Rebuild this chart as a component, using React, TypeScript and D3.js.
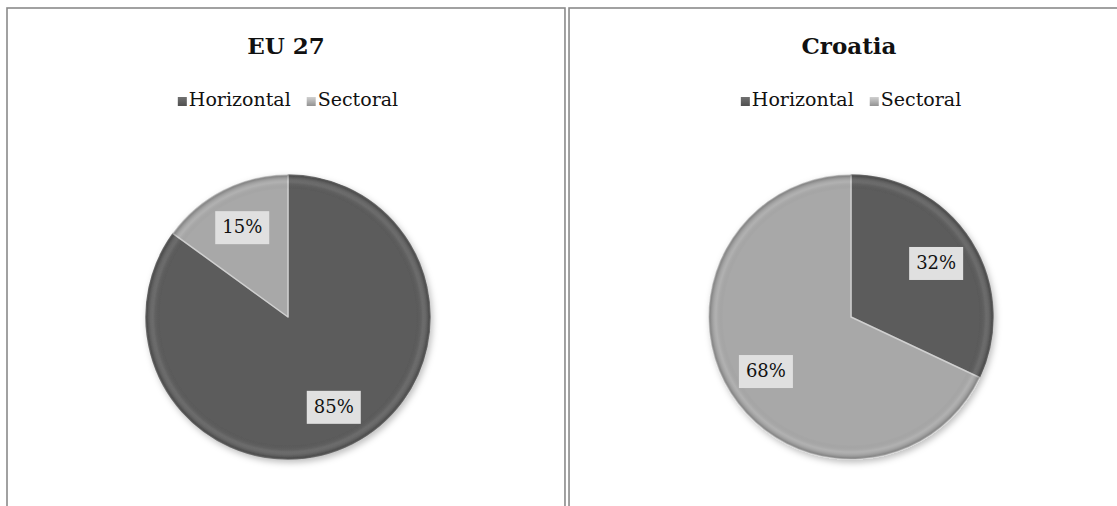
import * as d3 from "d3";
import { useRef, useEffect } from "react";

// chart data
const regions = ["EU 27", "Croatia"];
const categories = ["Horizontal", "Sectoral"];
const horizontalShare = [85, 32];
const sectoralShare = [15, 68];

const colors = ["#5b5b5b", "#a8a8a8"];
const font = "'DejaVu Serif', 'Liberation Serif', serif";

const width = 1117;
const height = 506;

export default function App() {
  const ref = useRef<SVGSVGElement | null>(null);

  useEffect(() => {
    const svg = d3.select(ref.current);
    svg.selectAll("*").remove();

    const radius = 142;
    const defs = svg.append("defs");

    // rim shading used on every slice (in the pie's own coordinates)
    const rim = defs.append("radialGradient")
      .attr("id", "rim")
      .attr("gradientUnits", "userSpaceOnUse")
      .attr("cx", 0).attr("cy", 0).attr("r", radius);
    rim.append("stop").attr("offset", "0%").attr("stop-color", "#000").attr("stop-opacity", 0);
    rim.append("stop").attr("offset", "90%").attr("stop-color", "#000").attr("stop-opacity", 0);
    rim.append("stop").attr("offset", "95%").attr("stop-color", "#fff").attr("stop-opacity", 0.1);
    rim.append("stop").attr("offset", "100%").attr("stop-color", "#000").attr("stop-opacity", 0.3);

    categories.forEach((c, i) => {
      const g = defs.append("linearGradient")
        .attr("id", "leg" + i)
        .attr("x1", 0).attr("y1", 0).attr("x2", 0).attr("y2", 1);
      g.append("stop").attr("offset", "0%").attr("stop-color", d3.color(colors[i])!.brighter(0.6).toString());
      g.append("stop").attr("offset", "100%").attr("stop-color", d3.color(colors[i])!.darker(0.4).toString());
    });

    const shadow = defs.append("filter").attr("id", "shadow")
      .attr("x", "-10%").attr("y", "-10%").attr("width", "130%").attr("height", "130%");
    shadow.append("feDropShadow")
      .attr("dx", 2).attr("dy", 3).attr("stdDeviation", 3)
      .attr("flood-color", "#000").attr("flood-opacity", 0.25);

    const panelX = d3.scaleBand<string>()
      .domain(regions)
      .range([7, 1127])
      .paddingInner(0.0072);

    const pie = d3.pie<number>().sort(null).value(d => d);
    const arc = d3.arc<d3.PieArcDatum<number>>().innerRadius(0).outerRadius(radius);
    const labelArc = d3.arc<d3.PieArcDatum<number>>().innerRadius(radius * 0.71).outerRadius(radius * 0.71);

    regions.forEach((region, ri) => {
      const x0 = panelX(region)!;
      const w = panelX.bandwidth();
      const cx = ri === 0 ? x0 + 281 : x0 + 282;
      const cy = 317;

      const panel = svg.append("g");
      panel.append("rect")
        .attr("x", x0).attr("y", 8)
        .attr("width", w).attr("height", height + 20)
        .attr("fill", "#fff")
        .attr("stroke", "#8a8a8a")
        .attr("stroke-width", 1.6);

      panel.append("text")
        .attr("x", cx - 2).attr("y", 54)
        .attr("text-anchor", "middle")
        .attr("font-family", font)
        .attr("font-weight", "bold")
        .attr("font-size", 23)
        .attr("fill", "#111")
        .text(region);

      // legend
      const legend = panel.append("g").attr("font-family", font).attr("font-size", 19);
      const items = legend.selectAll("g").data(categories).join("g");
      items.append("rect")
        .attr("width", 9).attr("height", 9).attr("y", -9)
        .attr("fill", (_, i) => `url(#leg${i})`);
      items.append("text")
        .attr("x", 11).attr("y", 0)
        .attr("fill", "#111")
        .text(d => d);
      // lay out items centred on the pie
      let off = 0;
      const offs: number[] = [];
      items.each(function () {
        offs.push(off);
        const bb = (this as SVGGElement).getBBox();
        off += bb.width + 16;
      });
      const total = off - 16;
      items.attr("transform", (_, i) => `translate(${cx - total / 2 + offs[i]},106)`);

      const values = [horizontalShare[ri], sectoralShare[ri]];
      const arcs = pie(values);

      const pieG = panel.append("g")
        .attr("transform", `translate(${cx},${cy})`)
        .attr("filter", "url(#shadow)");

      pieG.selectAll("path.slice")
        .data(arcs)
        .join("path")
        .attr("class", "slice")
        .attr("d", arc)
        .attr("fill", (_, i) => colors[i])
        .attr("stroke", (_, i) => d3.color(colors[i])!.brighter(0.6).toString())
        .attr("stroke-width", 1.5)
        .attr("stroke-linejoin", "round");

      pieG.selectAll("path.rim")
        .data(arcs)
        .join("path")
        .attr("class", "rim")
        .attr("d", arc)
        .attr("fill", "url(#rim)");

      const labels = panel.append("g")
        .attr("transform", `translate(${cx},${cy})`)
        .attr("font-family", font)
        .attr("font-size", 18);

      const lab = labels.selectAll("g")
        .data(arcs)
        .join("g")
        .attr("transform", d => `translate(${labelArc.centroid(d)})`);
      lab.append("rect")
        .attr("x", -27).attr("y", -16)
        .attr("width", 54).attr("height", 33)
        .attr("fill", "#e0e0e0");
      lab.append("text")
        .attr("text-anchor", "middle")
        .attr("dy", "0.35em")
        .attr("fill", "#111")
        .text(d => `${d.data}%`);
    });
  }, []);

  return (
    <svg
      ref={ref}
      width={width}
      height={height}
      style={{ position: "absolute", left: 0, top: 0, background: "#fff" }}
    />
  );
}
